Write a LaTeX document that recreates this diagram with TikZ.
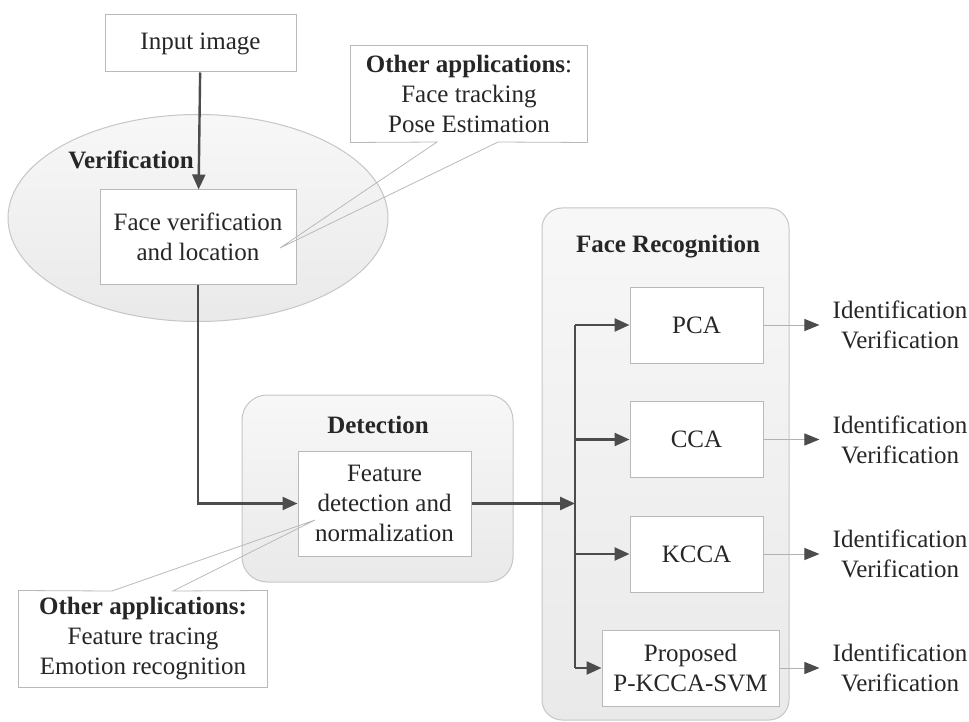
\documentclass[tikz,border=0pt]{standalone}
\usepackage{fontspec}
\setmainfont{Liberation Serif}
\usetikzlibrary{arrows.meta,shapes.geometric}

\begin{document}
\begin{tikzpicture}[x=1pt,y=-1pt,
  every node/.style={font=\fontsize{25}{30}\selectfont, text=black!85},
  box/.style={draw=gray!55, fill=white, line width=1pt, align=center, inner sep=0pt},
  panel/.style={draw=gray!45, line width=1pt, top color=gray!6, bottom color=gray!17},
  flow/.style={draw=black!70, line width=2.4pt, -{Triangle[length=15pt,width=13pt]}},
  outflow/.style={draw=gray!60, line width=1pt, shorten >=13pt, -{Triangle[length=15pt,width=12pt,color=black!70]}},
  pointer/.style={draw=gray!55, line width=0.8pt}]

\useasboundingbox (0,0) rectangle (969,722);

% Background panels
\node[ellipse, panel, minimum width=380, minimum height=207, inner sep=0pt] (verif) at (198,218) {};
\node[panel, rounded corners=25, minimum width=271, minimum height=187] (detect) at (377.5,488.5) {};
\node[panel, rounded corners=20, minimum width=247, minimum height=512] (recog) at (665.5,464) {};

% Panel titles
\node (verifTitle) at (131,160) {\textbf{Verification}};
\node (detectTitle) at (378,425) {\textbf{Detection}};
\node (recogTitle) at (668,247) {\textbf{Face Recognition}};

% Main boxes
\node[box, minimum width=191, minimum height=57] (input) at (200.5,43.5) {Input image};
\node[box, minimum width=196, minimum height=94] (face) at (198,237) {Face verification\\and location};
\node[box, minimum width=173, minimum height=105] (feature) at (384.5,503.5) {Feature\\detection and\\normalization};

% Recognition methods
\node[box, minimum width=133, minimum height=76] (pca) at (696.5,325) {PCA};
\node[box, minimum width=133, minimum height=76] (cca) at (696.5,439.5) {CCA};
\node[box, minimum width=133, minimum height=76] (kcca) at (696.5,554) {KCCA};
\node[box, minimum width=177, minimum height=76] (prop) at (690.5,668) {Proposed\\P-KCCA-SVM};

% Outputs
\foreach \m in {pca,cca,kcca,prop}
  \node[align=center, inner sep=0pt] (id\m) at (900,0 |- \m) {Identification\\Verification};

% Flow arrows
\coordinate (branch) at (575,503.5);
\draw[flow] (input) -- (face);
\draw[flow] (face.south) |- (feature.west);
\draw[flow] (feature.east) -- (branch);
\draw[draw=black!70, line width=2.4pt] (branch |- pca) -- (branch |- prop);
\foreach \m in {pca,cca,kcca,prop} {
  \draw[flow] (branch |- \m) -- (\m.west);
  \draw[outflow] (\m.east) -- (\m.east -| id\m.west);
}

% Callouts
\node[box, draw=none, minimum width=236, minimum height=96] (appTop) at (469,94) {\textbf{Other applications}:\\Face tracking\\Pose Estimation};
\coordinate (topBaseA) at (437,142);
\coordinate (topBaseB) at (498,142);
\coordinate (topTip) at (280,248);
\draw[pointer] (topBaseA) -- (appTop.south west) -- (appTop.north west) -- (appTop.north east)
  -- (appTop.south east) -- (topBaseB) -- (topTip) -- cycle;

\node[box, draw=none, minimum width=248, minimum height=96] (appBot) at (143,639) {\textbf{Other applications:}\\Feature tracing\\Emotion recognition};
\coordinate (botBaseA) at (112,591);
\coordinate (botBaseB) at (173,591);
\coordinate (botTip) at (315,520);
\draw[pointer] (botBaseA) -- (appBot.north west) -- (appBot.south west) -- (appBot.south east)
  -- (appBot.north east) -- (botBaseB) -- (botTip) -- cycle;

\end{tikzpicture}
\end{document}
